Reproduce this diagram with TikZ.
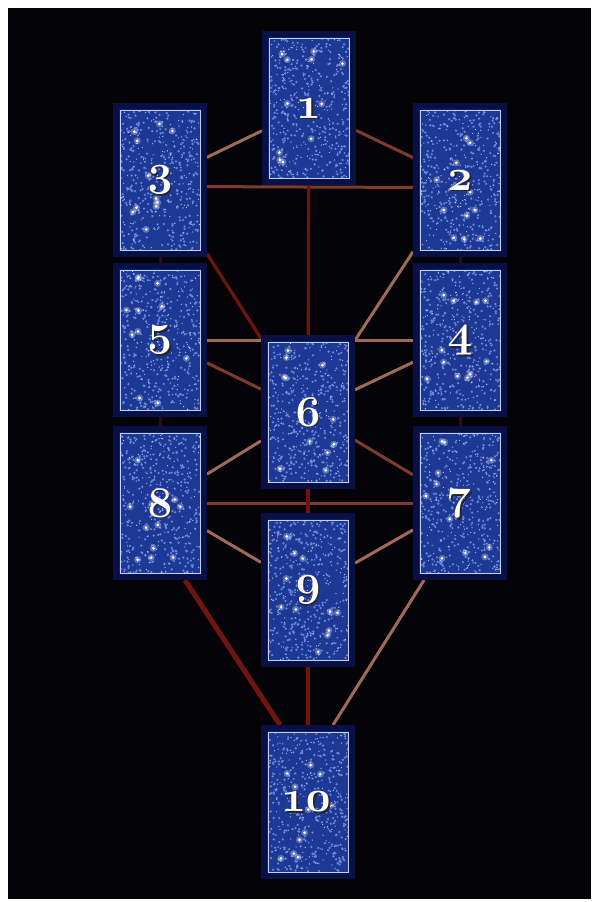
\documentclass[tikz,border=0pt]{standalone}
\usepackage{fontspec}
\newfontfamily\numfont[Numbers=OldStyle]{Latin Modern Roman}
\usetikzlibrary{calc}
\definecolor{bgblack}{RGB}{3,3,8}
\definecolor{frame}{RGB}{14,30,115}
\definecolor{glowc}{RGB}{8,16,70}
\definecolor{cardfill}{RGB}{30,56,150}
\definecolor{dotc}{RGB}{105,135,215}
\definecolor{dotl}{RGB}{175,195,245}
\definecolor{edgec}{RGB}{195,210,248}
\definecolor{lnlight}{RGB}{160,105,90}
\definecolor{lnmid}{RGB}{128,58,48}
\definecolor{lndark}{RGB}{112,20,16}
\pgfdeclarelayer{bglayer}
\pgfdeclarelayer{linelayer}
\pgfsetlayers{bglayer,linelayer,main}
\tikzset{
  cardframe/.style={fill=frame, draw=glowc, line width=6pt,
    minimum width=88pt, minimum height=148pt, inner sep=0pt},
  cardface/.style={fill=cardfill, draw=edgec, line width=1pt,
    minimum width=80pt, minimum height=140pt, inner sep=0pt,
    path picture={
      \foreach \k in {1,...,300}{
        \pgfmathsetmacro{\rx}{rnd*80}\pgfmathsetmacro{\ry}{rnd*140}
        \fill[dotc] ([xshift=\rx pt,yshift=\ry pt]path picture bounding box.south west) circle (1.25pt);
      }
      \foreach \k in {1,...,180}{
        \pgfmathsetmacro{\rx}{rnd*80}\pgfmathsetmacro{\ry}{rnd*140}
        \fill[dotl] ([xshift=\rx pt,yshift=\ry pt]path picture bounding box.south west) circle (0.65pt);
      }
      \foreach \k in {1,...,11}{
        \pgfmathsetmacro{\rx}{6+rnd*68}\pgfmathsetmacro{\ry}{6+rnd*128}
        \fill[white,opacity=0.3] ([xshift=\rx pt,yshift=\ry pt]path picture bounding box.south west) circle (3.5pt);
        \fill[white] ([xshift=\rx pt,yshift=\ry pt]path picture bounding box.south west) circle (1.5pt);
      }
    }},
  numtxt/.style={text=white, font=\numfont\bfseries\fontsize{44}{44}\selectfont, inner sep=0pt},
  numshadow/.style={text=black!85, font=\numfont\bfseries\fontsize{44}{44}\selectfont, inner sep=0pt},
  lnA/.style={draw=lnlight, line width=3pt},
  lnB/.style={draw=lnmid, line width=3pt},
  lnC/.style={draw=lndark, line width=3.2pt},
  lnS/.style={draw=lndark, line width=3pt, draw opacity=0.45},
}
\newcommand{\mycard}[4]{%
  \node[cardframe] (c#1) at (#2,#3) {};
  \node[cardface] (f#1) at (c#1.center) {};
  \node[numshadow] (s#1) at ([xshift=1.8pt,yshift=-1.8pt]c#1.center) {#4};
  \node[numtxt] (n#1) at (c#1.center) {#4};
}
\begin{document}
\begin{tikzpicture}[x=1pt,y=-1pt]
\pgfmathsetseed{4242}
\useasboundingbox (0,0) rectangle (600,902);
\begin{pgfonlayer}{bglayer}
  \fill[white] (0,0) rectangle (600,902);
  \fill[bgblack] (8,8) rectangle (591,899);
\end{pgfonlayer}

\mycard{1}{309}{108}{1}
\mycard{3}{160}{180}{3}
\mycard{2}{460}{180}{2}
\mycard{5}{160}{340}{5}
\mycard{4}{460}{340}{4}
\mycard{6}{308}{412}{6}
\mycard{8}{160}{503}{8}
\mycard{7}{460}{503}{7}
\mycard{9}{308}{590}{9}
\mycard{10}{308}{802}{10}

\begin{pgfonlayer}{linelayer}
  \draw[lnA] (c1) -- (c3);
  \draw[lnB] (c1) -- (c2);
  \draw[lnB] (c3.-8.7) -- (c2.-171.3);
  \draw[lnC] (c1) -- (c6);
  \draw[lnC] (c3) -- (c6);
  \draw[lnA] (c2) -- (c6);
  \draw[lnS] (c3) -- (c5);
  \draw[lnS] (c2) -- (c4);
  \draw[lnA] (c5) -- (c4);
  \draw[lnB] (c5) -- (c6);
  \draw[lnA] (c4) -- (c6);
  \draw[lnS] (c5) -- (c8);
  \draw[lnS] (c4) -- (c7);
  \draw[lnA] (c8) -- (c6);
  \draw[lnB] (c6) -- (c7);
  \draw[lnB] (c8) -- (c7);
  \draw[lnC] (c6) -- (c9);
  \draw[lnA] (c8) -- (c9);
  \draw[lnA] (c7) -- (c9);
  \draw[lnC, line width=5pt] (c8.-72) -- (c10.110);
  \draw[lnC] (c9) -- (c10);
  \draw[lnA] (c7.-115) -- (c10.72);
\end{pgfonlayer}
\end{tikzpicture}
\end{document}
